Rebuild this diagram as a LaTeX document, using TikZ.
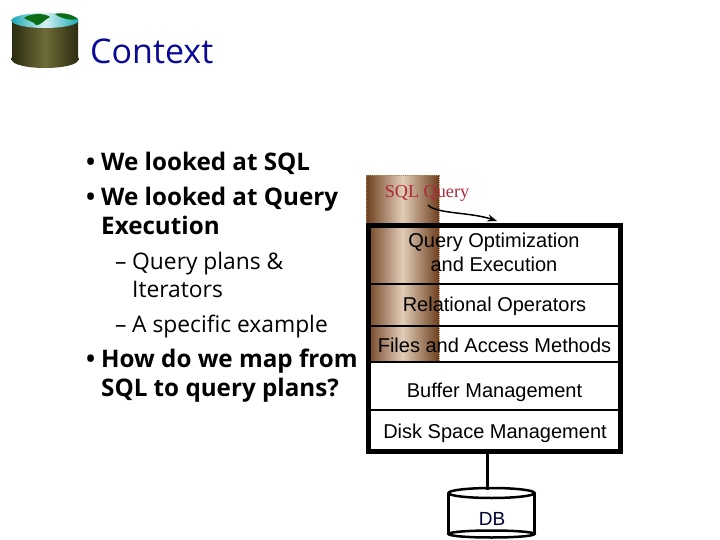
\documentclass[tikz,border=0pt]{standalone}
\usepackage{fontspec}
\setmainfont{Open Sans}
\newfontfamily\arialfont{Liberation Sans}
\newfontfamily\timesfont{Liberation Serif}
\usepackage{xcolor}
\usetikzlibrary{arrows.meta}
\definecolor{titleblue}{HTML}{0A0A96}
\definecolor{sqlred}{HTML}{B0283C}
\definecolor{banddark}{HTML}{6E3F1E}
\definecolor{bandlight}{HTML}{E2CDB8}
\definecolor{banddot}{HTML}{B08A5A}
\definecolor{olivedark}{HTML}{2C2C12}
\definecolor{olivelight}{HTML}{6E6C36}
\definecolor{globeteal}{HTML}{18A8B4}
\definecolor{globelight}{HTML}{D6F2F4}
\definecolor{globegreen}{HTML}{0C6E14}
\begin{document}
\begin{tikzpicture}[%
    x=1pt,
    y=-1pt,
    >=Stealth,
    outline/.style={%
      inner sep=0pt,
      anchor=base west,
      font=\fontsize{24.2}{24}\selectfont\bfseries
    },
    subline/.style={%
      inner sep=0pt,
      anchor=base west,
      font=\fontsize{22.8}{23}\selectfont
    },
    layer/.style={%
      inner sep=0pt,
      align=center,
      font=\arialfont\fontsize{20}{24}\selectfont
    },
    rule/.style={%
      line width=2pt
    }
  ]
    \useasboundingbox (0,0) rectangle (720,540);

    % globe icon
    \fill[black] (11,60) arc[start angle=180, end angle=360, x radius=34, y radius=12.5] -- cycle;
    \path[left color=olivedark, right color=olivedark, middle color=olivelight]
      (12,21) -- (78,21) -- (78,60) arc[start angle=0, end angle=180, x radius=33, y radius=8] -- cycle;
    \path[left color=globeteal, right color=globeteal, middle color=globelight]
      (45,20.5) ellipse[x radius=33.5, y radius=7.5];
    \fill[globegreen] (24,18) .. controls (30,13) and (46,13) .. (50,17)
      .. controls (44,20) and (40,26) .. (36,25) .. controls (33,21) and (28,21) .. (24,18) -- cycle;
    \fill[globegreen] (55,14) .. controls (62,12) and (72,14) .. (78,19)
      .. controls (70,21) and (60,18) .. (55,14) -- cycle;

    \node[anchor=base west, inner sep=0pt, text=titleblue, font=\fontsize{34}{34}\selectfont] (title) at (90,64) {Context};

    % left text
    \node[outline] (b1) at (86,171) {•};
    \node[outline] (l1) at (101,171) {We looked at SQL};
    \node[outline] (b2) at (86,206) {•};
    \node[outline] (l2) at (101,206) {We looked at Query};
    \node[outline] (l3) at (101,235) {Execution};
    \node[subline] (d1) at (115,269) {–};
    \node[subline] (l4) at (132,269) {Query plans \&};
    \node[subline] (l5) at (132,297) {Iterators};
    \node[subline] (d2) at (115,332) {–};
    \node[subline] (l6) at (132,332) {A specific example};
    \node[outline] (b3) at (86,367) {•};
    \node[outline] (l7) at (101,367) {How do we map from};
    \node[outline] (l8) at (101,396) {SQL to query plans?};

    % band behind the stack
    \path[left color=banddark, right color=banddark, middle color=bandlight]
      (366,176) rectangle (439,362);
    \draw[banddot, densely dotted, line width=1pt] (366,176) rectangle (439,362);

    % stack of layers
    \node[draw, line width=5pt, minimum width=252pt, minimum height=226pt, inner sep=0pt] (stack) at (494.5,338.5) {};
    \draw[rule] (stack.west |- 0,284) -- (stack.east |- 0,284);
    \draw[rule] (stack.west |- 0,326) -- (stack.east |- 0,326);
    \draw[rule] (stack.west |- 0,362) -- (stack.east |- 0,362);
    \draw[rule] (stack.west |- 0,410) -- (stack.east |- 0,410);

    \node[layer] (opt) at (494,252.5) {Query Optimization\\and Execution};
    \node[layer] (rel) at (494.5,306) {Relational Operators};
    \node[layer] (files) at (494.5,345.5) {Files and Access Methods};
    \node[layer] (buf) at (494.5,392) {Buffer Management};
    \node[layer] (disk) at (495,433) {Disk Space Management};

    \node[inner sep=0pt, text=sqlred, font=\timesfont\fontsize{18.2}{18}\selectfont] (sql) at (427,193) {SQL Query};
    \coordinate (sqlout) at (428,205);
    \coordinate (sqlin) at (497,221);
    \draw[->, line width=1.5pt] (sqlout) .. controls (436,214) and (470,212) .. (sqlin);

    % database
    \draw[line width=2.5pt] (448.5,493) -- (448.5,534) (534.5,493) -- (534.5,534);
    \draw[line width=2.5pt] (491.5,493) ellipse[x radius=43, y radius=5];
    \draw[line width=2.5pt] (491.5,534) ellipse[x radius=43, y radius=3.5];
    \node[inner sep=0pt, text=black!80!blue, font=\arialfont\fontsize{19}{19}\selectfont] (db) at (492,519) {DB};
    \coordinate (dbtop) at (487,490);
    \draw[line width=3pt] (stack.south -| dbtop) -- (dbtop);
\end{tikzpicture}
\end{document}
